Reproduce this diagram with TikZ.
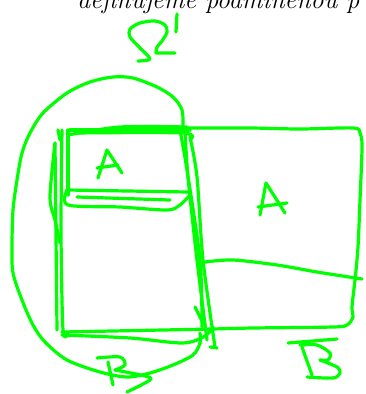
\documentclass[tikz,border=0pt]{standalone}
\usepackage{fontspec}
\definecolor{inkgreen}{RGB}{0,255,0}
\tikzset{
  ink/.style={draw=inkgreen, line width=3.2pt, line cap=round, line join=round},
  title/.style={anchor=base west, inner sep=0pt, font=\fontsize{26}{31}\selectfont\itshape}
}
\begin{document}
\begin{tikzpicture}[x=1pt,y=-1pt]
      \useasboundingbox (0,0) rectangle (365,394);
      \clip (0,0) rectangle (365,394);
      \node[title] (heading) at (77,8) {definujeme podmíněnou p};
      % Omega prime
      \draw[ink] plot[smooth] coordinates {(138,61) (150,59) (140,48) (130,37) (130,29) (140,23) (155,21) (165,25) (167,32) (162,41) (157,47) (156,53)} -- (175,53);
      \draw[ink] (177,14) -- (176,32);
      % outer loop
      \draw[ink] plot[smooth] coordinates {(183,128) (182,110) (173,97) (157,87) (133,78) (113,77) (90,82) (67,93) (43,113) (30,133) (22,153) (17,180) (13,210) (12,247) (13,273) (22,300) (33,325) (45,342) (67,360) (100,372) (127,377) (150,373) (173,365) (193,355) (200,343) (200,333)};
      % right rectangle
      \draw[ink] plot[smooth] coordinates {(183,128) (250,128) (300,129) (353,128) (360,133) (362,147) (360,200) (358,247) (355,280) (352,307) (353,317) (347,325) (333,327) (253,328) (213,329)};
      \draw[ink] plot[smooth] coordinates {(205,262) (233,260) (277,265) (317,272) (362,279)};
      % top of left square
      \draw[ink] plot[smooth] coordinates {(68,135) (120,127) (187,127)};
      \draw[ink] (70,130) -- (190,130);
      \draw[ink] plot[smooth] coordinates {(75,133) (183,133) (190,140)};
      % left edges
      \draw[ink] (58,130) -- (60,140);
      \draw[ink] (55,143) -- (57,330);
      \draw[ink] plot[smooth] coordinates {(62,130) (61,230) (63,330) (68,333)};
      \draw[ink] plot[smooth] coordinates {(55,143) (50,197) (55,220) (60,243)};
      % bottom of left square
      \draw[ink] (62,332) -- (213,329);
      \draw[ink] plot[smooth] coordinates {(62,335) (130,338) (183,343) (205,336) (213,327)};
      % right edges of left square
      \draw[ink] plot[smooth] coordinates {(185,130) (188,177) (197,260) (207,340)};
      \draw[ink] plot[smooth] coordinates {(190,137) (197,177) (203,260) (215,347)};
      \draw[ink] plot[smooth] coordinates {(180,130) (187,170) (200,260) (202,327)};
      \draw[ink] (195,307) -- (203,323);
      \draw[ink] (210,347) -- (217,348);
      % small box A
      \draw[ink] (68,130) -- (68,195);
      \draw[ink] (67,190) -- (188,192);
      \draw[ink] plot[smooth] coordinates {(67,190) (68,205) (120,207) (167,210) (180,205) (190,195)};
      \draw[ink] (77,197) -- (170,200);
      % letters A
      \draw[ink] (98,178) -- (107,150) -- (122,173);
      \draw[ink] (97,168) -- (118,165);
      \draw[ink] (260,215) -- (266,183) -- (285,213);
      \draw[ink] (258,207) -- (287,203);
      % letters B
      \draw[ink] plot[smooth] coordinates {(97,358) (120,357) (125,365) (115,370)};
      \draw[ink] plot[smooth] coordinates {(115,370) (145,376) (150,380) (127,392)};
      \draw[ink] (108,362) -- (113,385);
      \draw[ink] (288,343) -- (337,339);
      \draw[ink] (302,347) -- (312,375);
      \draw[ink] plot[smooth] coordinates {(300,345) (317,345) (330,353) (328,360) (320,360)};
      \draw[ink] plot[smooth] coordinates {(320,360) (337,367) (340,373) (333,378) (307,377)};
    \end{tikzpicture}
\end{document}
